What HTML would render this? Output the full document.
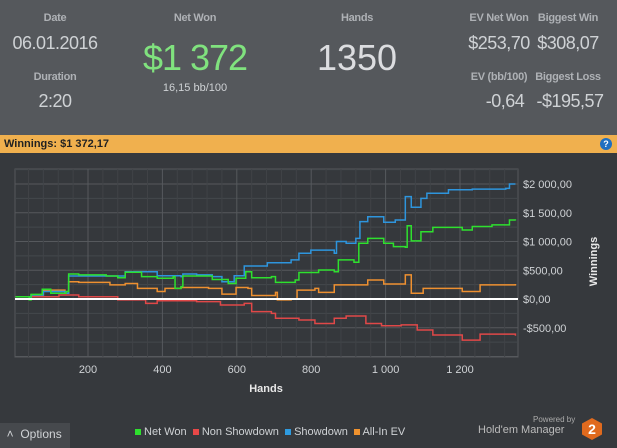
<!DOCTYPE html>
<html><head><meta charset="utf-8"><style>
body{margin:0;width:617px;height:448px;overflow:hidden;background:#36393d;font-family:"Liberation Sans",sans-serif;position:relative}
.t{position:absolute;transform:translateX(-50%);white-space:nowrap;color:#cfd2d5}
.l{font-size:11px;color:#aeb1b5;font-weight:bold;letter-spacing:-0.3px}
.v{font-size:18px;letter-spacing:-0.5px}
</style></head><body>
<div style="position:absolute;left:0;top:0;width:617px;height:135px;background:#55585c">
<div class="t l" style="left:55px;top:12px">Date</div>
<div class="t v" style="left:55px;top:33px">06.01.2016</div>
<div class="t l" style="left:55px;top:71px">Duration</div>
<div class="t v" style="left:55px;top:91px">2:20</div>
<div class="t l" style="left:195px;top:12px">Net Won</div>
<div class="t" style="left:195px;top:37px;font-size:36px;letter-spacing:-1px;color:#80e27e">$1 372</div>
<div class="t" style="left:195px;top:82px;font-size:11px">16,15 bb/100</div>
<div class="t l" style="left:357px;top:12px">Hands</div>
<div class="t" style="left:357px;top:37px;font-size:36px;color:#dcdde0">1350</div>
<div class="t l" style="left:499px;top:12px">EV Net Won</div>
<div class="t v" style="left:499px;top:33px">$253,70</div>
<div class="t l" style="left:568px;top:12px">Biggest Win</div>
<div class="t v" style="left:568px;top:33px">$308,07</div>
<div class="t l" style="left:499px;top:71px">EV (bb/100)</div>
<div class="t v" style="left:505px;top:91px">-0,64</div>
<div class="t l" style="left:568px;top:71px">Biggest Loss</div>
<div class="t v" style="left:570px;top:91px">-$195,57</div>
</div>
<div style="position:absolute;left:0;top:135px;width:617px;height:18px;background:#f0b04e;font-size:11px;font-weight:bold;color:#222;line-height:18px;padding-left:4px;box-sizing:border-box">Winnings: $1 372,17
<div style="position:absolute;right:5px;top:3px;width:12px;height:12px;border-radius:50%;background:#1f6fc0;color:#fff;font-size:9px;line-height:12px;text-align:center">?</div></div>
<svg id="c" width="617" height="295" style="position:absolute;left:0;top:153px"></svg>
<div style="position:absolute;left:0;top:423px;width:70px;height:25px;background:#46494d;color:#d0d3d6;font-size:12px;line-height:22px">&nbsp;&nbsp;˄&nbsp;&nbsp;Options</div>
<div style="position:absolute;left:135px;top:426px;font-size:11px;color:#cfd2d5;white-space:nowrap">
<span><span style="display:inline-block;width:6px;height:6px;background:#2ee02e"></span> Net Won</span>&nbsp;
<span><span style="display:inline-block;width:6px;height:6px;background:#e84848"></span> Non Showdown</span>&nbsp;
<span><span style="display:inline-block;width:6px;height:6px;background:#2e9be0"></span> Showdown</span>&nbsp;
<span><span style="display:inline-block;width:6px;height:6px;background:#f0922e"></span> All-In EV</span></div>
<div style="position:absolute;left:533px;top:415px;font-size:8px;color:#aaa">Powered by</div>
<div style="position:absolute;left:478px;top:424px;font-size:11px;color:#bbb">Hold'em Manager</div>
<div style="position:absolute;left:582px;top:418px;width:20px;height:22px;background:#e06a1e;clip-path:polygon(50% 0,100% 25%,100% 75%,50% 100%,0 75%,0 25%);color:#fff;font-weight:bold;font-size:14px;text-align:center;line-height:22px">2</div>
<script>
const netWonPts=[[5,40],[42,-15],[47,80],[77,170],[100,100],[141,130],[148,435],[175,420],[249,400],[280,370],[300,465],[344,390],[386,360],[429,390],[434,185],[450,215],[455,400],[534,340],[577,270],[598,360],[624,475],[640,370],[693,390],[704,290],[757,330],[767,460],[820,505],[862,475],[873,680],[915,640],[928,970],[952,1055],[995,970],[1021,910],[1053,900],[1058,1275],[1069,1010],[1095,1170],[1127,1245],[1206,1200],[1233,1260],[1286,1290],[1328,1290],[1333,1375],[1349,1365]];
const nonShowdownPts=[[5,40],[47,40],[122,70],[175,40],[280,-15],[355,-75],[386,-30],[492,-45],[556,-105],[620,-75],[640,-220],[693,-250],[704,-335],[767,-365],[810,-425],[862,-335],[894,-295],[947,-425],[989,-465],[1042,-450],[1085,-540],[1127,-625],[1206,-715],[1254,-610],[1307,-610],[1349,-640]];
const showdownPts=[[5,40],[47,70],[80,130],[138,100],[148,400],[280,400],[300,475],[386,405],[450,390],[455,435],[492,420],[534,390],[560,300],[593,405],[620,575],[682,630],[746,680],[767,795],[799,850],[862,795],[868,1000],[894,970],[920,1055],[931,1345],[952,1430],[995,1335],[1026,1375],[1053,1780],[1069,1595],[1095,1750],[1111,1840],[1169,1900],[1233,1910],[1323,1925],[1333,2000],[1349,2000]];
const allInEvPts=[[5,40],[47,70],[80,155],[138,100],[148,300],[175,290],[259,245],[300,270],[333,185],[386,130],[407,185],[450,200],[524,185],[560,85],[598,200],[630,185],[640,60],[704,115],[709,-15],[746,0],[762,155],[810,185],[820,115],[862,245],[937,245],[952,330],[995,260],[1048,260],[1053,420],[1069,100],[1101,185],[1206,130],[1254,245],[1349,260]];
const xTicks=[200,400,600,800,1000,1200];
const xTickLabels=["200","400","600","800","1 000","1 200"];
const yTicks=[-500,0,500,1000,1500,2000];
const yTickLabels=["-$500,00","$0,00","$500,00","$1 000,00","$1 500,00","$2 000,00"];
const OY=153;
const X=h=>13.6+h*0.372;
const Y=v=>299-OY-v*0.0575;
const L=15,R=518,T=169-OY,B=357-OY;
const svg=document.getElementById('c');
const NS='http://www.w3.org/2000/svg';
function mk(tag,a){const e=document.createElementNS(NS,tag);for(const k in a)e.setAttribute(k,a[k]);svg.appendChild(e);return e;}
let e=mk('rect',{x:L,y:T,width:R-L,height:B-T,fill:'#35383c',stroke:'#55585c'});


for(let v=-1000;v<=2250;v+=250){const y=Y(v);if(y<T||y>B)continue;
 e=mk('line',{x1:L,x2:R,y1:y,y2:y,stroke:v%500==0?'#56595d':'#45484c','stroke-width':1});
 
 }
for(let h=40;h<=1340;h+=40){const x=X(h);
 e=mk('line',{x1:x,x2:x,y1:T,y2:B,stroke:h%200==0?'#56595d':'#404347','stroke-width':1});
 
 }
xTicks.forEach((h,i)=>{e=mk('text',{x:X(h),y:B+16,fill:'#cfd2d5','font-size':11,'text-anchor':'middle'});e.textContent=xTickLabels[i];
 
 });
yTicks.forEach((v,i)=>{e=mk('text',{x:R+5,y:Y(v)+4,fill:'#cfd2d5','font-size':11});e.textContent=yTickLabels[i];
 
 });
e=mk('text',{x:266,y:B+35,fill:'#e8e8e8','font-size':11,'font-weight':'bold','text-anchor':'middle'});e.textContent='Hands';


e=mk('text',{x:0,y:0,fill:'#e8e8e8','font-size':11,'font-weight':'bold','text-anchor':'middle',transform:`translate(597,${Y(1000)+20}) rotate(-90)`});e.textContent='Winnings';


function step(pts){let d='M'+X(pts[0][0])+','+Y(pts[0][1]);for(let i=1;i<pts.length;i++){d+=' H'+X(pts[i][0])+' V'+Y(pts[i][1]);}return d;}
[[nonShowdownPts,'#e04848','line-non-showdown'],[allInEvPts,'#ee9030','line-all-in-ev'],[showdownPts,'#2e95dd','line-showdown'],[netWonPts,'#2ee02e','line-net-won']].forEach(([p,c,n])=>{
 e=mk('path',{d:step(p),fill:'none',stroke:c,'stroke-width':1.5});
 
 });
e=mk('line',{x1:L,x2:R,y1:Y(0),y2:Y(0),stroke:'#fff','stroke-width':2});


</script>
</body></html>
